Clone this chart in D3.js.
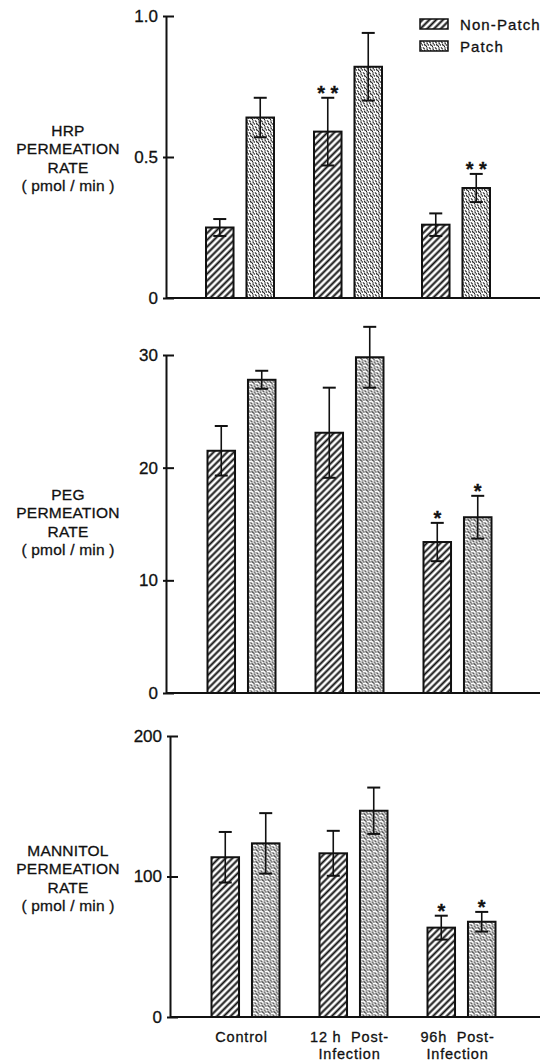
<!DOCTYPE html>
<html>
<head>
<meta charset="utf-8">
<script src="https://cdn.jsdelivr.net/npm/d3@7/dist/d3.min.js"></script>
<style>
  body { margin: 0; background: #fff; }
  text { font-family: "Liberation Sans", Arial, sans-serif; fill: #111; stroke: #111; stroke-width: 0.3; white-space: pre; }
</style>
</head>
<body>
<div class="chart"></div>
<script>
// categories and series
const groups = ["Control", "12 h Post-Infection", "96 h Post-Infection"];
const series = ["Non-Patch", "Patch"];
const groupLabels = [["Control"], ["12 h  Post-", "Infection"], ["96h  Post-", "Infection"]];

// HRP (pmol/min)
const hrpNonPatch = [0.25, 0.59, 0.26];
const hrpNonPatchErr = [0.03, 0.12, 0.04];
const hrpPatch = [0.64, 0.82, 0.39];
const hrpPatchErr = [0.07, 0.12, 0.05];
const hrpNonPatchSig = ["", "* *", ""];
const hrpPatchSig = ["", "", "* *"];
const hrpTicks = [0, 0.5, 1.0];
const hrpTickLabels = ["0", "0.5", "1.0"];

// PEG (pmol/min)
const pegNonPatch = [21.5, 23.1, 13.4];
const pegNonPatchErr = [2.2, 4.0, 1.7];
const pegPatch = [27.8, 29.8, 15.6];
const pegPatchErr = [0.8, 2.7, 1.9];
const pegNonPatchSig = ["", "", "*"];
const pegPatchSig = ["", "", "*"];
const pegTicks = [0, 10, 20, 30];
const pegTickLabels = ["0", "10", "20", "30"];

// Mannitol (pmol/min)
const manNonPatch = [113.7, 116.5, 63.6];
const manNonPatchErr = [18, 16, 8.5];
const manPatch = [123.6, 146.8, 67.8];
const manPatchErr = [21.5, 16.5, 7];
const manNonPatchSig = ["", "", "*"];
const manPatchSig = ["", "", "*"];
const manTicks = [0, 100, 200];
const manTickLabels = ["0", "100", "200"];

const W = 549, H = 1063;

const svg = d3.select('.chart').append('svg')
  .attr('width', W)
  .attr('height', H);

// fill patterns
const defs = svg.append('defs');
const hatch = defs.append('pattern')
  .attr('id', 'hatch')
  .attr('patternUnits', 'userSpaceOnUse')
  .attr('width', 4.8).attr('height', 4.8)
  .attr('patternTransform', 'rotate(45)');
hatch.append('rect').attr('width', 4.8).attr('height', 4.8).attr('fill', '#fff');
hatch.append('line')
  .attr('x1', 2.4).attr('y1', 0).attr('x2', 2.4).attr('y2', 4.8)
  .attr('stroke', '#111').attr('stroke-width', 2);

const dots = defs.append('pattern')
  .attr('id', 'dots')
  .attr('patternUnits', 'userSpaceOnUse')
  .attr('width', 6).attr('height', 6);
dots.append('rect').attr('width', 6).attr('height', 6).attr('fill', '#fff');
[[1, 1], [4, 1.6], [2.4, 3.9], [5.2, 4.6], [0.3, 5.3], [3.3, 0.1], [1.2, 2.8], [4.6, 3.2]].forEach(p => {
  dots.append('circle').attr('cx', p[0]).attr('cy', p[1]).attr('r', 0.75).attr('fill', '#111');
});
const fills = {"Non-Patch": "url(#hatch)", "Patch": "url(#dots)"};

// shared x scales
const x0 = d3.scalePoint().domain(groups).range([240, 456]);
const x1 = d3.scaleBand().domain(series).range([-34, 34]).paddingInner(0.32);

function rows(np, npErr, p, pErr, npSig, pSig) {
  return groups.map((g, i) => ({
    group: g,
    bars: [
      {s: "Non-Patch", v: np[i], e: npErr[i], sig: npSig[i]},
      {s: "Patch", v: p[i], e: pErr[i], sig: pSig[i]}
    ]
  }));
}

const panels = [
  {data: rows(hrpNonPatch, hrpNonPatchErr, hrpPatch, hrpPatchErr, hrpNonPatchSig, hrpPatchSig),
   domain: [0, 1], range: [298, 16], ticks: hrpTicks, tickLabels: hrpTickLabels,
   axisX: 166, dx: 0, label: ["HRP", "PERMEATION", "RATE", "( pmol / min )"], labelY: 130},
  {data: rows(pegNonPatch, pegNonPatchErr, pegPatch, pegPatchErr, pegNonPatchSig, pegPatchSig),
   domain: [0, 30], range: [693, 355], ticks: pegTicks, tickLabels: pegTickLabels,
   axisX: 166, dx: 1.5, label: ["PEG", "PERMEATION", "RATE", "( pmol / min )"], labelY: 494},
  {data: rows(manNonPatch, manNonPatchErr, manPatch, manPatchErr, manNonPatchSig, manPatchSig),
   domain: [0, 200], range: [1017, 736], ticks: manTicks, tickLabels: manTickLabels,
   axisX: 170, dx: 5.5, label: ["MANNITOL", "PERMEATION", "RATE", "( pmol / min )"], labelY: 850}
];

panels.forEach(pn => {
  const y = d3.scaleLinear().domain(pn.domain).range(pn.range);
  const g = svg.append('g');

  // y label
  const lab = g.append('text')
    .attr('text-anchor', 'middle')
    .attr('font-size', 15.5)
    .attr('letter-spacing', 0.2);
  pn.label.forEach((t, i) => {
    lab.append('tspan').attr('x', 68).attr('y', pn.labelY + 6 + i * 18.3).text(t);
  });

  // y axis
  const ax = g.append('g')
    .attr('transform', `translate(${pn.axisX},0)`)
    .call(d3.axisLeft(y)
      .tickValues(pn.ticks)
      .tickFormat((d, i) => pn.tickLabels[i])
      .tickSizeInner(-8)
      .tickSizeOuter(0)
      .tickPadding(8));
  ax.select('.domain').attr('stroke', '#111').attr('stroke-width', 2);
  ax.selectAll('.tick line').attr('x1', -3).attr('stroke', '#111').attr('stroke-width', 2);
  ax.selectAll('.tick text')
    .attr('font-family', '"Liberation Sans", Arial, sans-serif')
    .attr('font-size', 17).attr('fill', '#111');

  // baseline
  g.append('line')
    .attr('x1', pn.axisX).attr('x2', 540)
    .attr('y1', y(0)).attr('y2', y(0))
    .attr('stroke', '#111').attr('stroke-width', 2);

  const grp = g.selectAll('.grp')
    .data(pn.data)
    .enter().append('g')
      .attr('class', 'grp')
      .attr('transform', d => `translate(${x0(d.group) + pn.dx},0)`);

  const bar = grp.selectAll('.bar')
    .data(d => d.bars)
    .enter().append('g')
      .attr('class', 'bar');

  bar.append('rect')
    .attr('x', d => x1(d.s))
    .attr('width', x1.bandwidth())
    .attr('y', d => y(d.v))
    .attr('height', d => y(0) - y(d.v))
    .attr('fill', d => fills[d.s])
    .attr('stroke', '#111')
    .attr('stroke-width', 2);

  const cx = d => x1(d.s) + x1.bandwidth() / 2;
  bar.append('line')
    .attr('x1', cx).attr('x2', cx)
    .attr('y1', d => y(d.v + d.e)).attr('y2', d => y(d.v - d.e))
    .attr('stroke', '#111').attr('stroke-width', 1.6);
  [1, -1].forEach(sgn => {
    bar.append('line')
      .attr('x1', d => cx(d) - 6.5).attr('x2', d => cx(d) + 6.5)
      .attr('y1', d => y(d.v + sgn * d.e)).attr('y2', d => y(d.v + sgn * d.e))
      .attr('stroke', '#111').attr('stroke-width', 2);
  });

  bar.filter(d => d.sig).append('text')
    .attr('x', cx)
    .attr('y', d => y(d.v + d.e) + 2)
    .attr('text-anchor', 'middle')
    .attr('font-size', 20)
    .attr('font-weight', 'bold')
    .text(d => d.sig);
});

// x labels under the bottom panel
const last = panels[panels.length - 1];
groups.forEach((gname, i) => {
  const t = svg.append('text')
    .attr('text-anchor', 'middle')
    .attr('font-size', 14.5)
    .attr('letter-spacing', 0.8);
  groupLabels[i].forEach((line, j) => {
    t.append('tspan')
      .attr('x', x0(gname) + last.dx - 4)
      .attr('y', 1042 + j * 17)
      .text(line);
  });
});

// legend
const legend = svg.append('g').attr('transform', 'translate(420,19)');
series.forEach((s, i) => {
  const row = legend.append('g').attr('transform', `translate(0,${i * 22})`);
  row.append('rect')
    .attr('width', 28).attr('height', 10)
    .attr('fill', fills[s])
    .attr('stroke', '#111').attr('stroke-width', 1.5);
  row.append('text')
    .attr('x', 40).attr('y', 11)
    .attr('font-size', 15)
    .attr('letter-spacing', 1.1)
    .text(s);
});
</script>
</body>
</html>
